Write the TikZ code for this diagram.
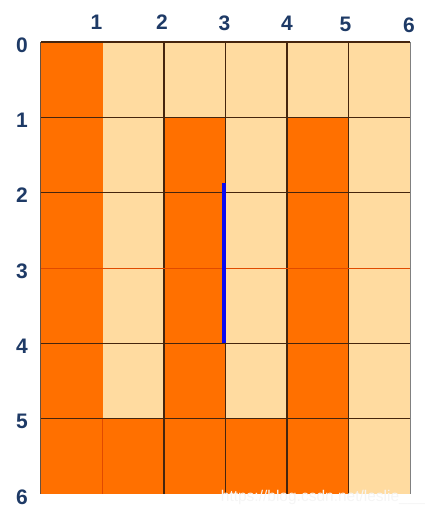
\documentclass[tikz,border=0pt]{standalone}
\usepackage{fontspec}
\setmainfont{Liberation Sans}
\definecolor{cellDark}{HTML}{FF7000}
\definecolor{cellLight}{HTML}{FFDBA0}
\definecolor{gridLine}{HTML}{45250E}
\definecolor{softLine}{HTML}{E04A00}
\definecolor{labelBlue}{HTML}{1E3A66}
\definecolor{pathBlue}{HTML}{0A0AF0}

\def\xunit{61.5pt}
\def\yunit{-75.3pt}

\begin{document}
\begin{tikzpicture}[x=\xunit, y=\yunit,
  font=\bfseries\fontsize{21}{21}\selectfont,
  lbl/.style={text=labelBlue, inner sep=0pt},
  gridrule/.style={draw=gridLine, line width=1.3pt},
  softrule/.style={draw=softLine, line width=0.6pt},
  bluepath/.style={draw=pathBlue, line width=4pt}]
\useasboundingbox (-41pt,42pt) rectangle (396pt,-473pt);

% ---- cells: light sheet, dark columns 0, 2, 4 and bottom row ----
\fill[cellLight] (0,0) rectangle (6,6);
\fill[cellDark] (0,0) rectangle (1,6);
\fill[cellDark] (2,1) rectangle (3,6);
\fill[cellDark] (4,1) rectangle (5,6);
\fill[cellDark] (1,5) rectangle (5,6);

% ---- grid lines ----
\foreach \c in {2,...,5} \draw[gridrule] (\c,0) -- (\c,6);
\foreach \r in {0,1,2,4,5} \draw[gridrule] (0,\r) -- (6,\r);
\draw[softrule] (0,3) -- (6,3);
\draw[softrule] (1,5) -- (1,6);
\draw[draw=gridLine!80, line width=1pt] (0,0) -- (0,6);
\draw[draw=gray, line width=1pt] (6,0) -- (6,6);

% ---- row labels 0--6 ----
\foreach \r in {0,...,6}
  \node[lbl, xshift=-19pt, yshift=-3pt] (row\r) at (0,\r) {\r};

% ---- column labels 1--6 ----
\foreach \c/\dx/\dy in {1/-6/20, 2/-2/20, 3/-1/19, 4/0/19, 5/-3/18, 6/-1/17}
  \node[lbl, xshift=\dx pt, yshift=\dy pt] (col\c) at (\c,0) {\c};

% ---- blue path along line 3 ----
\coordinate[xshift=-1.5pt] (pathTop) at (3,1.87);
\coordinate[xshift=-1.5pt] (pathBot) at (3,4);
\draw[bluepath] (pathTop) -- (pathBot);

% ---- watermark ----
\node[font=\normalfont\fontsize{15.5}{15.5}\selectfont, text=white!92!gray, inner sep=0pt]
  (mark) at (282pt,-455pt) {https://blog.csdn.net/leslie\_\_\_};

\end{tikzpicture}
\end{document}
